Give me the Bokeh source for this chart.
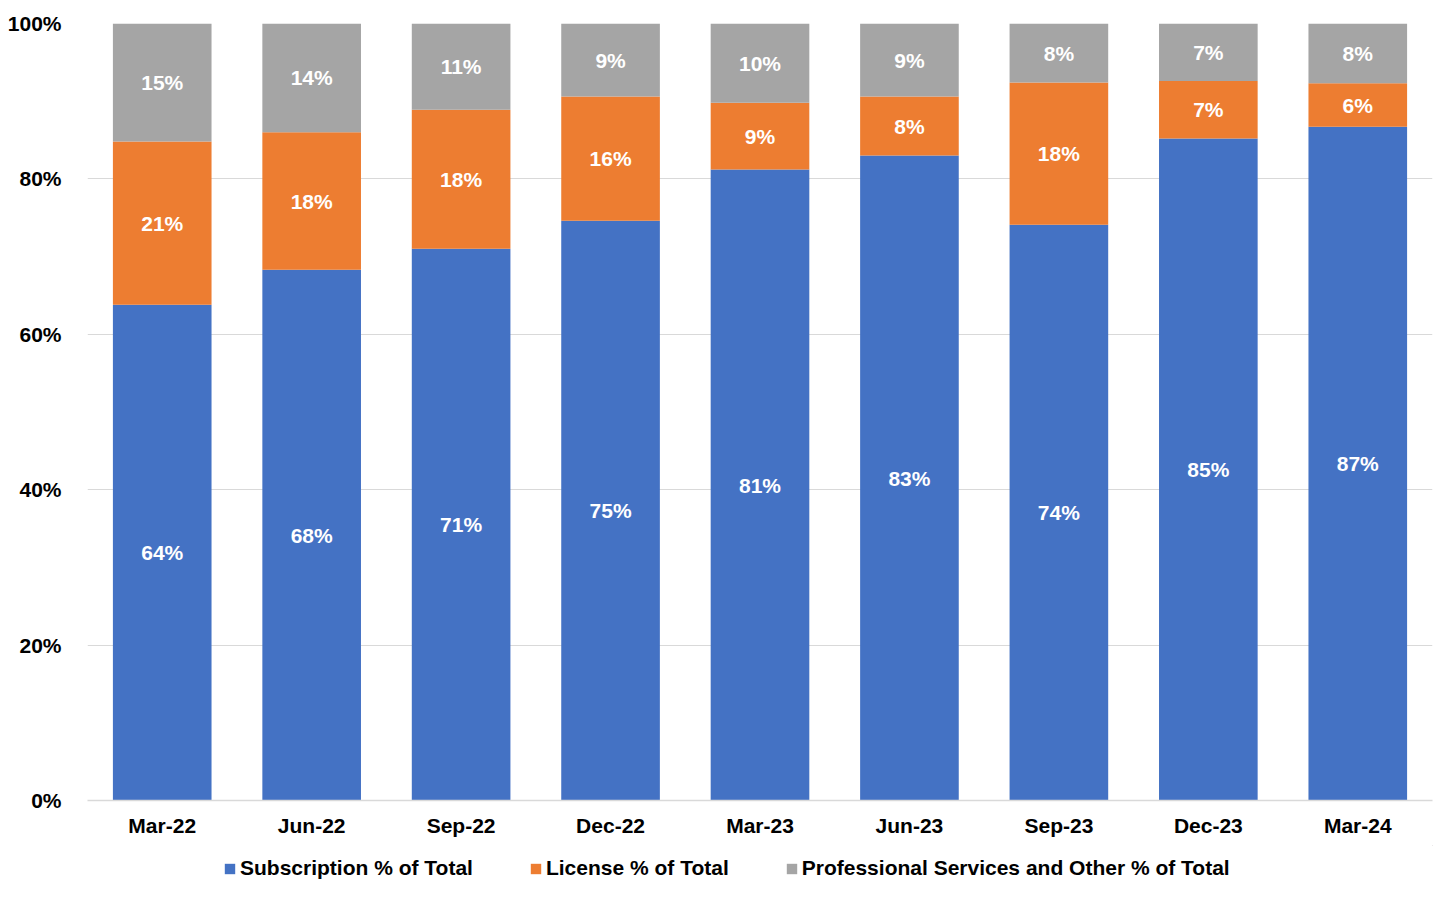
from bokeh.plotting import figure
from bokeh.layouts import column
from bokeh.models import ColumnDataSource, Legend, LegendItem, FixedTicker
from bokeh.core.properties import value
from bokeh.embed import file_html
from bokeh.resources import INLINE

# Revenue mix per quarter, share of total (%)
quarters = ["Mar-22", "Jun-22", "Sep-22", "Dec-22", "Mar-23",
            "Jun-23", "Sep-23", "Dec-23", "Mar-24"]
subscription = [63.8, 68.3, 71.0, 74.6, 81.2, 83.0, 74.1, 85.2, 86.7]
license_ = [21.0, 17.7, 17.9, 16.0, 8.6, 7.6, 18.3, 7.4, 5.6]
services = [15.2, 14.0, 11.1, 9.4, 10.2, 9.4, 7.6, 7.4, 7.7]
y_ticks = [0, 20, 40, 60, 80, 100]

series_names = ["Subscription % of Total", "License % of Total",
                "Professional Services and Other % of Total"]
colors = ["#4472C4", "#ED7D31", "#A5A5A5"]
FONT = "Liberation Sans"
SIZE = "21px"

p = figure(x_range=quarters, y_range=(0, 100), width=1440, height=845,
           output_backend="svg", toolbar_location=None,
           min_border_left=87, min_border_right=8, min_border_top=23,
           min_border_bottom=45)
p.outline_line_color = None

# stacked bars
bottoms = [0] * len(quarters)
for name, vals, col in zip(series_names, [subscription, license_, services], colors):
    tops = [b + v for b, v in zip(bottoms, vals)]
    mids = [(b + t) / 2 for b, t in zip(bottoms, tops)]
    src = ColumnDataSource(dict(x=quarters, bottom=bottoms, top=tops, mid=mids,
                                lbl=["%d%%" % round(v) for v in vals]))
    p.vbar(x="x", bottom="bottom", top="top", width=0.66, source=src,
           fill_color=col, line_color=None)
    p.text(x="x", y="mid", text="lbl", source=src, text_color="white",
           text_font=value(FONT), text_font_style="bold", text_font_size=SIZE,
           text_align="center", text_baseline="middle")
    bottoms = tops

# axes
p.yaxis.ticker = FixedTicker(ticks=y_ticks)
p.yaxis.major_label_overrides = {t: "%d%%" % t for t in y_ticks}
p.yaxis.axis_line_color = None
p.yaxis.major_tick_line_color = None
p.yaxis.minor_tick_line_color = None
p.yaxis.major_label_standoff = 20
p.xaxis.axis_line_color = "#d9d9d9"
p.xaxis.axis_line_width = 1.5
p.xaxis.major_tick_line_color = None
p.xaxis.major_label_standoff = 7
for ax in (p.xaxis, p.yaxis):
    ax.major_label_text_font = FONT
    ax.major_label_text_font_style = "bold"
    ax.major_label_text_font_size = SIZE
    ax.major_label_text_color = "black"

p.xgrid.grid_line_color = None
p.ygrid.grid_line_color = "#d9d9d9"
p.ygrid.grid_line_width = 1.2

# legend strip under the chart (its dummy bars sit outside the visible range)
lg = figure(width=1440, height=50, x_range=(0, 1), y_range=(0, 1),
            output_backend="svg", toolbar_location=None,
            x_axis_location=None, y_axis_location=None, min_border=0)
lg.outline_line_color = None
lg.grid.visible = False
items = []
for name, col in zip(series_names, colors):
    r = lg.vbar(x=[5], bottom=[5], top=[6], width=0.5, fill_color=col, line_color=None)
    items.append(LegendItem(label=name, renderers=[r]))

legend = Legend(items=items, orientation="horizontal", location=(136, 15),
                label_text_font=FONT, label_text_font_style="bold",
                label_text_font_size=SIZE, label_text_color="black",
                glyph_width=13, glyph_height=13,
                label_standoff=4, spacing=56, border_line_color=None,
                background_fill_alpha=0, padding=0, margin=0)
lg.add_layout(legend, "center")

open("out.html", "w").write(file_html(column(p, lg), INLINE))
